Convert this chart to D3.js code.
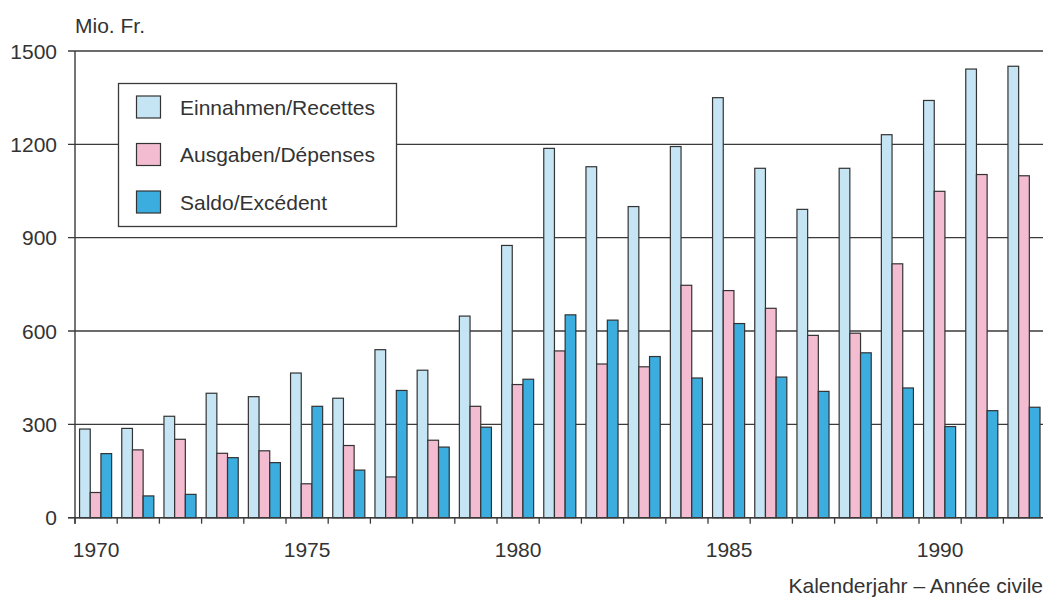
<!DOCTYPE html>
<html><head><meta charset="utf-8">
<script src="https://cdn.jsdelivr.net/npm/d3@7"></script>
<style>
html,body{margin:0;padding:0;background:#fff;}
svg{display:block;}
text{font-family:"Liberation Sans",Arial,Helvetica,sans-serif;fill:#333;}
</style></head>
<body>
<svg id="chart" width="1045" height="599"></svg>
<script>
const years = d3.range(1970, 1993);
const seriesNames = ["Einnahmen/Recettes", "Ausgaben/Dépenses", "Saldo/Excédent"];
const einnahmen = [285, 287, 326, 400, 389, 465, 384, 540, 474, 648, 875, 1187, 1128, 1000, 1193, 1350, 1123, 991, 1123, 1231, 1341, 1442, 1451];
const ausgaben  = [81, 218, 252, 207, 215, 109, 232, 131, 249, 358, 428, 536, 494, 485, 747, 730, 673, 586, 593, 816, 1049, 1103, 1099];
const saldo     = [206, 70, 75, 193, 177, 358, 153, 409, 227, 291, 445, 652, 635, 518, 449, 624, 452, 406, 530, 417, 293, 344, 355];
const yTicks = [0, 300, 600, 900, 1200, 1500];
const xLabels = [1970, 1975, 1980, 1985, 1990];
const colors = ["#c6e5f4", "#f3bcd1", "#3badde"];
const seriesValues = [einnahmen, ausgaben, saldo];

const FS = 21;
const svg = d3.select("#chart");
const left = 75, bw = 42.2;
const x = d3.scaleBand().domain(years).range([left, left + bw * years.length]).padding(0);
const sub = d3.scaleBand().domain(d3.range(3)).range([x.bandwidth() * 0.108, x.bandwidth() * 0.868]).padding(0);
const y = d3.scaleLinear().domain([0, 1500]).range([517.7, 51]);
const rightEdge = 1043;

// gridlines
svg.append("g").selectAll("line").data(yTicks).join("line")
  .attr("x1", 68).attr("x2", rightEdge)
  .attr("y1", d => y(d)).attr("y2", d => y(d))
  .attr("stroke", "#3a3a3a").attr("stroke-width", 1.3);

// y tick labels
svg.append("g").selectAll("text").data(yTicks).join("text")
  .attr("x", 57).attr("y", d => y(d)).attr("dy", "0.36em")
  .attr("text-anchor", "end").attr("font-size", FS).text(d => d);

// legend box
const lg = svg.append("g");
lg.append("rect").attr("x", 118.5).attr("y", 83.5).attr("width", 278).attr("height", 143)
  .attr("fill", "#fff").attr("stroke", "#3a3a3a").attr("stroke-width", 1.3);
seriesNames.forEach((name, i) => {
  const cy = 107 + i * 47.5;
  lg.append("rect").attr("x", 136.5).attr("y", cy - 11).attr("width", 24).attr("height", 22)
    .attr("fill", colors[i]).attr("stroke", "#333").attr("stroke-width", 1.2);
  lg.append("text").attr("x", 180).attr("y", cy).attr("dy", "0.36em")
    .attr("font-size", FS).text(name);
});

// bars
const gBars = svg.append("g");
years.forEach((yr, k) => {
  seriesValues.forEach((vals, i) => {
    const v = vals[k];
    gBars.append("rect")
      .attr("x", x(yr) + sub(i)).attr("width", sub.bandwidth())
      .attr("y", y(v)).attr("height", y(0) - y(v))
      .attr("fill", colors[i]).attr("stroke", "#333").attr("stroke-width", 1.2);
  });
});

// axes lines
svg.append("line").attr("x1", left).attr("x2", left).attr("y1", y(1500)).attr("y2", y(0) + 6)
  .attr("stroke", "#3a3a3a").attr("stroke-width", 1.4);
svg.append("line").attr("x1", 68).attr("x2", rightEdge).attr("y1", y(0)).attr("y2", y(0))
  .attr("stroke", "#3a3a3a").attr("stroke-width", 1.4);
// x ticks at band boundaries
svg.append("g").selectAll("line").data(years).join("line")
  .attr("x1", d => x(d)).attr("x2", d => x(d))
  .attr("y1", y(0)).attr("y2", y(0) + 6)
  .attr("stroke", "#3a3a3a").attr("stroke-width", 1.3);

// x labels
svg.append("g").selectAll("text").data(xLabels).join("text")
  .attr("x", d => x(d) + x.bandwidth() / 2).attr("y", 557)
  .attr("text-anchor", "middle").attr("font-size", FS).text(d => d);

// titles
svg.append("text").attr("x", 75).attr("y", 33).attr("font-size", FS).text("Mio. Fr.");
svg.append("text").attr("x", 1043).attr("y", 593).attr("text-anchor", "end")
  .attr("font-size", FS).text("Kalenderjahr – Année civile");
</script>
</body></html>
